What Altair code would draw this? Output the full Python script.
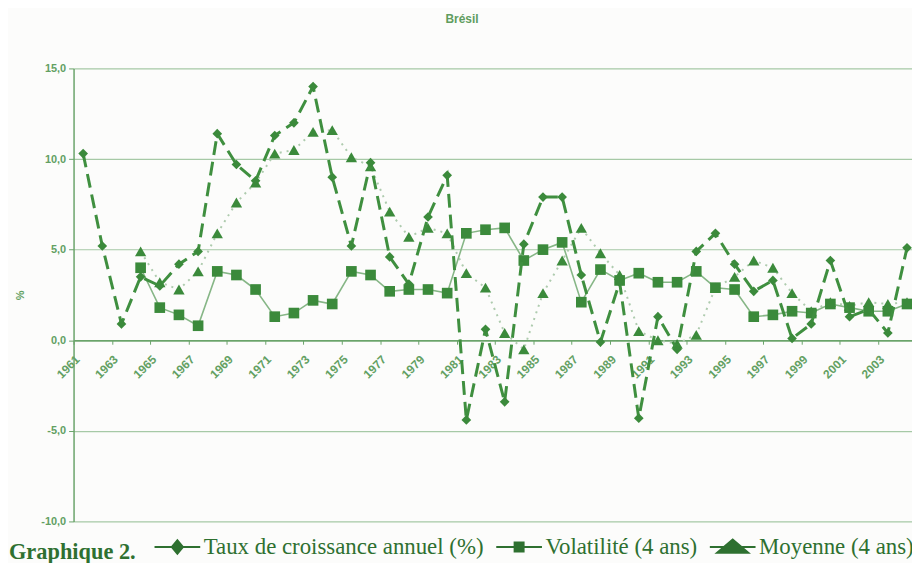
import altair as alt
import pandas as pd

# ---- data ----
years = list(range(1961, 2005))
taux = [10.3, 5.2, 0.9, 3.5, 3.0, 4.2, 4.9, 11.4, 9.7, 8.8,
        11.3, 12.0, 14.0, 9.0, 5.2, 9.8, 4.6, 3.1, 6.8, 9.1,
        -4.4, 0.6, -3.4, 5.3, 7.9, 7.9, 3.6, -0.1, 3.2, -4.3,
        1.3, -0.5, 4.9, 5.9, 4.2, 2.7, 3.3, 0.1, 0.9, 4.4,
        1.3, 1.7, 0.4, 5.1]
years4 = list(range(1964, 2005))
volatilite = [4.0, 1.8, 1.4, 0.8, 3.8, 3.6, 2.8, 1.3, 1.5, 2.2,
              2.0, 3.8, 3.6, 2.7, 2.8, 2.8, 2.6, 5.9, 6.1, 6.2,
              4.4, 5.0, 5.4, 2.1, 3.9, 3.3, 3.7, 3.2, 3.2, 3.8,
              2.9, 2.8, 1.3, 1.4, 1.6, 1.5, 2.0, 1.8, 1.6, 1.6, 2.0]
moyenne = [4.9, 3.2, 2.8, 3.8, 5.9, 7.6, 8.7, 10.3, 10.5, 11.5,
           11.6, 10.1, 9.6, 7.1, 5.7, 6.2, 5.9, 3.7, 2.9, 0.4,
           -0.5, 2.6, 4.4, 6.2, 4.8, 3.6, 0.5, 0.0, -0.2, 0.3,
           2.9, 3.5, 4.4, 4.0, 2.6, 1.6, 2.1, 1.9, 2.1, 2.0, 2.1]
y_ticks = [-10, -5, 0, 5, 10, 15]
series = ["Taux de croissance annuel (%)", "Volatilité (4 ans)", "Moyenne (4 ans)"]

df_t = pd.DataFrame({"annee": years, "valeur": taux})
df_v = pd.DataFrame({"annee": years4, "valeur": volatilite})
df_m = pd.DataFrame({"annee": years4, "valeur": moyenne})
df_leg = pd.DataFrame({"serie": series, "annee": [1961] * 3, "valeur": [0.0] * 3})

MARK = "#3b8a3b"
TXT = "#62a062"
LEG = "#2e7030"
FONT = "Liberation Sans"

x_enc = alt.X(
    "annee:Q",
    scale=alt.Scale(domain=[1960.5, 2004.26], nice=False, zero=False),
    axis=alt.Axis(
        values=years,
        format="d",
        labelExpr="datum.value % 2 == 1 ? '' + datum.value : ''",
        labelAngle=-45,
        labelAlign="right",
        labelBaseline="middle",
        labelPadding=13,
        labelOffset=3.6,
        tickOffset=-9.645,
        tickSize=4,
        labelOverlap=False,
        labelFlush=False,
        labelBound=False,
        grid=False,
        offset=-182.4,
        title=None,
        domainColor="#6aa36a",
        tickColor="#6aa36a",
        domainWidth=1.5,
        labelColor=TXT,
        labelFont=FONT,
        labelFontSize=12,
        labelFontWeight="bold",
    ),
)
y_enc = alt.Y(
    "valeur:Q",
    scale=alt.Scale(domain=[-10, 15], nice=False, zero=False),
    axis=alt.Axis(
        values=y_ticks,
        labelExpr="(datum.value < 0 ? '-' : '') + replace(format(abs(datum.value), '.1f'), '.', ',')",
        grid=True,
        gridColor="#a6c9a6",
        gridWidth=1.2,
        domainColor="#6aa36a",
        domainWidth=1.5,
        tickColor="#6aa36a",
        tickSize=5,
        labelPadding=3,
        labelColor=TXT,
        labelFont=FONT,
        labelFontSize=11,
        labelFontWeight="bold",
        title="%",
        titleX=-48,
        titleY=228,
        titleColor=TXT,
        titleFont=FONT,
        titleFontSize=11,
        titleFontWeight="bold",
    ),
)

moy_line = alt.Chart(df_m).mark_line(color="#aecbae", strokeWidth=2, strokeDash=[2, 5]).encode(x=x_enc, y=y_enc)
moy_pts = alt.Chart(df_m).mark_point(shape="triangle-up", filled=True, size=130, color=MARK, opacity=1).encode(x="annee:Q", y="valeur:Q")
vol_line = alt.Chart(df_v).mark_line(color="#86b686", strokeWidth=1.6).encode(x="annee:Q", y="valeur:Q")
vol_pts = alt.Chart(df_v).mark_point(shape="square", filled=True, size=115, color=MARK, opacity=1).encode(x="annee:Q", y="valeur:Q")
taux_line = alt.Chart(df_t).mark_line(color="#3f8f3f", strokeWidth=3, strokeDash=[14, 7]).encode(x="annee:Q", y="valeur:Q")
taux_pts = alt.Chart(df_t).mark_point(shape="diamond", filled=True, size=95, color=MARK, opacity=1, clip=False).encode(x="annee:Q", y="valeur:Q")

# legend glyphs: a thin filled bar (the line) plus the marker
BAR = "M-1,-0.045H1V0.045H-1Z"
paths = [
    BAR + "M0,-0.36L0.3,0L0,0.36L-0.3,0Z",
    BAR + "M-0.24,-0.24H0.24V0.24H-0.24Z",
    BAR + "M0,-0.38L0.8,0.3H-0.8Z",
]

legend_layer = alt.Chart(df_leg).transform_filter("datum.valeur > 1000").mark_point(
    fill=LEG, stroke=LEG, strokeWidth=0.5, size=2116, opacity=1
).encode(
    x="annee:Q",
    y="valeur:Q",
    shape=alt.Shape(
        "serie:N",
        scale=alt.Scale(domain=series, range=paths),
        legend=alt.Legend(
            title="Graphique 2.",
            titleOrient="left",
            titleAnchor="middle",
            titleBaseline="top",
            orient="none",
            legendX=-65,
            legendY=458,
            direction="horizontal",
            titleFont="Liberation Serif",
            titleFontSize=22.5,
            titleFontWeight="bold",
            titleColor=LEG,
            titlePadding=18,
            titleLimit=300,
            labelFont="Liberation Serif",
            labelFontSize=23,
            labelColor=LEG,
            labelOffset=3,
            labelLimit=400,
            columnPadding=11,
            symbolSize=2116,
            symbolStrokeWidth=0.5,
            symbolFillColor=LEG,
            symbolStrokeColor=LEG,
            padding=0,
        ),
    ),
)

chart = alt.layer(
    moy_line, moy_pts, vol_line, vol_pts, taux_line, taux_pts, legend_layer
).properties(
    width=844,
    height=456,
    padding={"left": 66, "top": 59, "right": 0, "bottom": 40},
    autosize=alt.AutoSizeParams(type="none"),
    background="#fcfcfb",
    title=alt.TitleParams(
        "Brésil", font=FONT, fontSize=12, fontWeight="bold", color="#5f9d5f",
        anchor="middle", dx=-31, offset=37,
    ),
).configure_view(stroke=None)

chart.save("out.html", embed_options={"renderer": "svg", "actions": False})
